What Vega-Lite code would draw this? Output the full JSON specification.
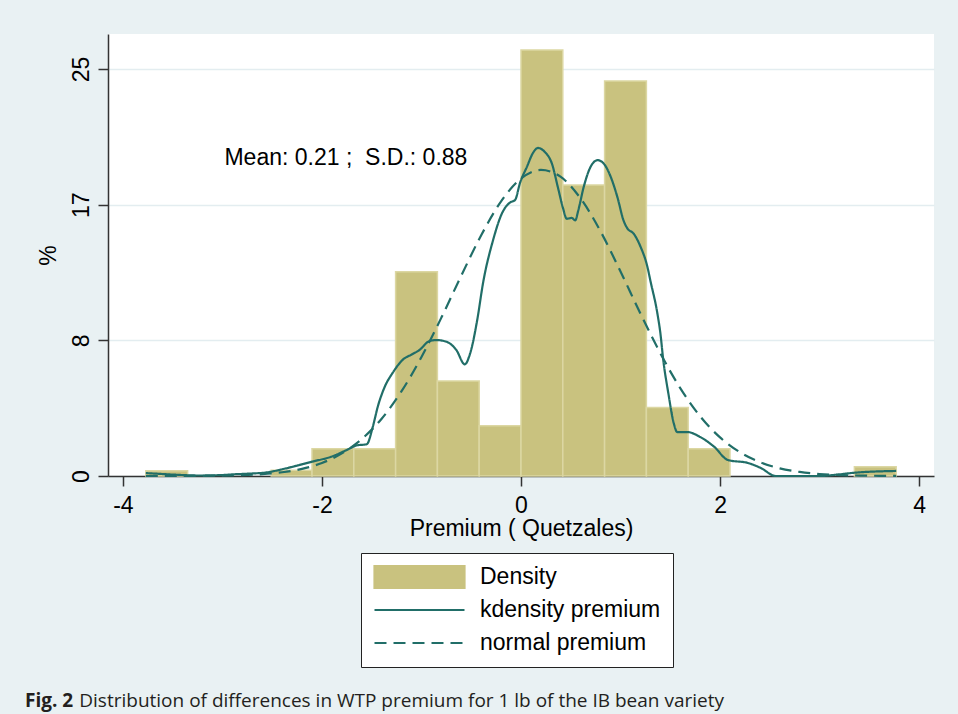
{
  "$schema": "https://vega.github.io/schema/vega-lite/v6.json",
  "width": 826,
  "height": 442,
  "autosize": {"type": "none"},
  "padding": {"left": 108, "top": 34, "right": 24, "bottom": 238},
  "background": "#e9f1f3",
  "config": {
    "view": {"fill": "white", "stroke": null},
    "font": "Liberation Sans",
    "axis": {
      "labelFont": "Liberation Sans",
      "titleFont": "Liberation Sans",
      "labelFontSize": 23,
      "titleFontSize": 23,
      "titleFontWeight": "normal",
      "labelColor": "black",
      "titleColor": "black",
      "tickColor": "#333333",
      "domainColor": "#333333",
      "tickWidth": 1.5,
      "domainWidth": 1.5,
      "tickSize": 10
    },
    "legend": {
      "orient": "none",
      "legendX": 253,
      "legendY": 519,
      "direction": "vertical",
      "fillColor": "white",
      "strokeColor": "#222222",
      "padding": 12,
      "labelFont": "Liberation Sans",
      "labelFontSize": 23,
      "labelColor": "black",
      "labelOffset": 14,
      "labelLimit": 400,
      "symbolSize": 8100,
      "symbolStrokeWidth": 2.2,
      "symbolOpacity": 1,
      "clipHeight": 24,
      "rowPadding": 9
    }
  },
  "title": {
    "text": "Fig. 2",
    "subtitle": "\u200b\u00a0\u00a0\u00a0\u00a0\u00a0\u00a0\u00a0\u00a0\u00a0\u00a0\u00a0Distribution of differences in WTP premium for 1 lb of the IB bean variety",
    "orient": "bottom",
    "anchor": "start",
    "frame": "group",
    "dx": -83,
    "offset": 24,
    "font": "Open Sans",
    "fontSize": 19,
    "fontWeight": "bold",
    "color": "#231f20",
    "subtitleFont": "Open Sans",
    "subtitleFontSize": 19,
    "subtitleFontWeight": "normal",
    "subtitleColor": "#231f20",
    "subtitlePadding": -19
  },
  "datasets": {
    "bars": [
      {"series": "Density", "bin_start": -3.77, "bin_end": -3.35, "pct": 0.33},
      {"series": "Density", "bin_start": -2.51, "bin_end": -2.10, "pct": 0.35},
      {"series": "Density", "bin_start": -2.10, "bin_end": -1.68, "pct": 1.68},
      {"series": "Density", "bin_start": -1.68, "bin_end": -1.26, "pct": 1.68},
      {"series": "Density", "bin_start": -1.26, "bin_end": -0.84, "pct": 12.55},
      {"series": "Density", "bin_start": -0.84, "bin_end": -0.42, "pct": 5.83},
      {"series": "Density", "bin_start": -0.42, "bin_end": 0.0, "pct": 3.09},
      {"series": "Density", "bin_start": 0.0, "bin_end": 0.42, "pct": 26.17},
      {"series": "Density", "bin_start": 0.42, "bin_end": 0.84, "pct": 17.87},
      {"series": "Density", "bin_start": 0.84, "bin_end": 1.26, "pct": 24.26},
      {"series": "Density", "bin_start": 1.26, "bin_end": 1.68, "pct": 4.2},
      {"series": "Density", "bin_start": 1.68, "bin_end": 2.10, "pct": 1.68},
      {"series": "Density", "bin_start": 3.35, "bin_end": 3.77, "pct": 0.57}
    ],
    "kdensity": [
      {"series": "kdensity premium", "x": -3.77, "y": 0.18},
      {"series": "kdensity premium", "x": -3.6, "y": 0.12},
      {"series": "kdensity premium", "x": -3.4, "y": 0.06},
      {"series": "kdensity premium", "x": -3.24, "y": 0.03},
      {"series": "kdensity premium", "x": -3.0, "y": 0.06},
      {"series": "kdensity premium", "x": -2.9, "y": 0.1},
      {"series": "kdensity premium", "x": -2.75, "y": 0.14},
      {"series": "kdensity premium", "x": -2.56, "y": 0.22},
      {"series": "kdensity premium", "x": -2.36, "y": 0.47},
      {"series": "kdensity premium", "x": -2.10, "y": 0.88},
      {"series": "kdensity premium", "x": -1.9, "y": 1.2},
      {"series": "kdensity premium", "x": -1.75, "y": 1.6},
      {"series": "kdensity premium", "x": -1.65, "y": 1.88},
      {"series": "kdensity premium", "x": -1.55, "y": 1.95},
      {"series": "kdensity premium", "x": -1.49, "y": 3.0},
      {"series": "kdensity premium", "x": -1.44, "y": 4.24},
      {"series": "kdensity premium", "x": -1.37, "y": 5.47},
      {"series": "kdensity premium", "x": -1.29, "y": 6.33},
      {"series": "kdensity premium", "x": -1.19, "y": 7.13},
      {"series": "kdensity premium", "x": -1.09, "y": 7.49},
      {"series": "kdensity premium", "x": -1.02, "y": 7.74},
      {"series": "kdensity premium", "x": -0.92, "y": 8.29},
      {"series": "kdensity premium", "x": -0.85, "y": 8.35},
      {"series": "kdensity premium", "x": -0.75, "y": 8.25},
      {"series": "kdensity premium", "x": -0.65, "y": 7.74},
      {"series": "kdensity premium", "x": -0.565, "y": 6.86},
      {"series": "kdensity premium", "x": -0.51, "y": 7.55},
      {"series": "kdensity premium", "x": -0.44, "y": 9.58},
      {"series": "kdensity premium", "x": -0.38, "y": 11.9},
      {"series": "kdensity premium", "x": -0.28, "y": 14.5},
      {"series": "kdensity premium", "x": -0.19, "y": 16.15},
      {"series": "kdensity premium", "x": -0.11, "y": 16.8},
      {"series": "kdensity premium", "x": -0.06, "y": 16.95},
      {"series": "kdensity premium", "x": -0.01, "y": 18.0},
      {"series": "kdensity premium", "x": 0.06, "y": 19.0},
      {"series": "kdensity premium", "x": 0.12, "y": 19.84},
      {"series": "kdensity premium", "x": 0.17, "y": 20.15},
      {"series": "kdensity premium", "x": 0.24, "y": 19.9},
      {"series": "kdensity premium", "x": 0.31, "y": 19.2},
      {"series": "kdensity premium", "x": 0.37, "y": 17.75},
      {"series": "kdensity premium", "x": 0.42, "y": 16.5},
      {"series": "kdensity premium", "x": 0.46, "y": 15.8},
      {"series": "kdensity premium", "x": 0.51, "y": 15.85},
      {"series": "kdensity premium", "x": 0.545, "y": 15.7},
      {"series": "kdensity premium", "x": 0.575, "y": 16.3},
      {"series": "kdensity premium", "x": 0.63, "y": 17.75},
      {"series": "kdensity premium", "x": 0.70, "y": 19.0},
      {"series": "kdensity premium", "x": 0.77, "y": 19.4},
      {"series": "kdensity premium", "x": 0.83, "y": 19.2},
      {"series": "kdensity premium", "x": 0.90, "y": 18.4},
      {"series": "kdensity premium", "x": 0.97, "y": 17.1},
      {"series": "kdensity premium", "x": 1.03, "y": 15.7},
      {"series": "kdensity premium", "x": 1.07, "y": 15.2},
      {"series": "kdensity premium", "x": 1.13, "y": 14.9},
      {"series": "kdensity premium", "x": 1.20, "y": 14.1},
      {"series": "kdensity premium", "x": 1.27, "y": 12.85},
      {"series": "kdensity premium", "x": 1.30, "y": 12.0},
      {"series": "kdensity premium", "x": 1.37, "y": 10.0},
      {"series": "kdensity premium", "x": 1.40, "y": 8.8},
      {"series": "kdensity premium", "x": 1.43, "y": 7.1},
      {"series": "kdensity premium", "x": 1.48, "y": 5.1},
      {"series": "kdensity premium", "x": 1.535, "y": 3.24},
      {"series": "kdensity premium", "x": 1.57, "y": 2.7},
      {"series": "kdensity premium", "x": 1.67, "y": 2.7},
      {"series": "kdensity premium", "x": 1.80, "y": 2.4},
      {"series": "kdensity premium", "x": 1.94, "y": 1.8},
      {"series": "kdensity premium", "x": 2.08, "y": 0.98},
      {"series": "kdensity premium", "x": 2.28, "y": 0.8},
      {"series": "kdensity premium", "x": 2.41, "y": 0.49},
      {"series": "kdensity premium", "x": 2.56, "y": 0.0},
      {"series": "kdensity premium", "x": 3.0, "y": 0.0},
      {"series": "kdensity premium", "x": 3.2, "y": 0.1},
      {"series": "kdensity premium", "x": 3.35, "y": 0.2},
      {"series": "kdensity premium", "x": 3.77, "y": 0.31}
    ],
    "normal": [
      {"series": "normal premium", "x": -3.77, "y": 0.0},
      {"series": "normal premium", "x": -3.6, "y": 0.002},
      {"series": "normal premium", "x": -3.4, "y": 0.004},
      {"series": "normal premium", "x": -3.2, "y": 0.01},
      {"series": "normal premium", "x": -3.0, "y": 0.024},
      {"series": "normal premium", "x": -2.8, "y": 0.054},
      {"series": "normal premium", "x": -2.6, "y": 0.115},
      {"series": "normal premium", "x": -2.4, "y": 0.23},
      {"series": "normal premium", "x": -2.2, "y": 0.44},
      {"series": "normal premium", "x": -2.0, "y": 0.8},
      {"series": "normal premium", "x": -1.8, "y": 1.39},
      {"series": "normal premium", "x": -1.6, "y": 2.27},
      {"series": "normal premium", "x": -1.4, "y": 3.52},
      {"series": "normal premium", "x": -1.2, "y": 5.21},
      {"series": "normal premium", "x": -1.0, "y": 7.31},
      {"series": "normal premium", "x": -0.8, "y": 9.73},
      {"series": "normal premium", "x": -0.6, "y": 12.31},
      {"series": "normal premium", "x": -0.4, "y": 14.79},
      {"series": "normal premium", "x": -0.2, "y": 16.87},
      {"series": "normal premium", "x": 0.0, "y": 18.27},
      {"series": "normal premium", "x": 0.2, "y": 18.8},
      {"series": "normal premium", "x": 0.4, "y": 18.37},
      {"series": "normal premium", "x": 0.6, "y": 17.04},
      {"series": "normal premium", "x": 0.8, "y": 15.02},
      {"series": "normal premium", "x": 1.0, "y": 12.56},
      {"series": "normal premium", "x": 1.2, "y": 9.98},
      {"series": "normal premium", "x": 1.4, "y": 7.54},
      {"series": "normal premium", "x": 1.6, "y": 5.4},
      {"series": "normal premium", "x": 1.8, "y": 3.67},
      {"series": "normal premium", "x": 2.0, "y": 2.37},
      {"series": "normal premium", "x": 2.2, "y": 1.46},
      {"series": "normal premium", "x": 2.4, "y": 0.85},
      {"series": "normal premium", "x": 2.6, "y": 0.47},
      {"series": "normal premium", "x": 2.8, "y": 0.25},
      {"series": "normal premium", "x": 3.0, "y": 0.12},
      {"series": "normal premium", "x": 3.2, "y": 0.058},
      {"series": "normal premium", "x": 3.4, "y": 0.026},
      {"series": "normal premium", "x": 3.6, "y": 0.011},
      {"series": "normal premium", "x": 3.77, "y": 0.005}
    ],
    "note": [
      {"x": -2.98, "y": 19.53, "label": "Mean: 0.21 ;\u00a0 S.D.: 0.88"}
    ]
  },
  "layer": [
    {
      "data": {"name": "bars"},
      "mark": {"type": "rect", "stroke": "#dcd7a3", "strokeWidth": 1.5, "opacity": 1},
      "encoding": {
        "x": {
          "field": "bin_start", "type": "quantitative",
          "scale": {"domain": [-4.15, 4.15], "nice": false, "zero": false},
          "axis": {"values": [-4, -2, 0, 2, 4], "labelExpr": "'' + datum.value", "title": "Premium ( Quetzales)", "grid": false, "labelPadding": 8, "titlePadding": 0}
        },
        "x2": {"field": "bin_end"},
        "y": {
          "field": "pct", "type": "quantitative",
          "scale": {"domain": [0, 27.15], "nice": false, "zero": true},
          "axis": {
            "values": [0, 8.3333, 16.6667, 25],
            "labelExpr": "format(datum.value, '.0f')",
            "labelAngle": -90, "labelAlign": "center", "labelBaseline": "bottom",
            "labelPadding": 5, "title": "%", "titlePadding": 10,
            "grid": true, "gridColor": "#e3edf0", "gridWidth": 1.5
          }
        },
        "y2": {"datum": 0},
        "color": {
          "field": "series", "type": "nominal", "title": null,
          "scale": {"domain": ["Density", "kdensity premium", "normal premium"], "range": ["#c9c27f", "#216e68", "#216e68"]}
        }
      }
    },
    {
      "data": {"name": "kdensity"},
      "mark": {"type": "point", "opacity": 0},
      "encoding": {
        "x": {"field": "x", "type": "quantitative"},
        "y": {"field": "y", "type": "quantitative"},
        "shape": {
          "field": "series", "type": "nominal", "title": null,
          "scale": {"domain": ["Density", "kdensity premium", "normal premium"], "range": ["M-1,-0.27H1V0.27H-1Z", "M-1,0H1", "M-1,0H1"]}
        }
      }
    },
    {
      "data": {"name": "kdensity"},
      "mark": {"type": "line", "strokeWidth": 2.2, "interpolate": "monotone", "opacity": 1},
      "encoding": {
        "x": {"field": "x", "type": "quantitative"},
        "y": {"field": "y", "type": "quantitative"},
        "color": {"field": "series", "type": "nominal", "title": null},
        "strokeDash": {
          "field": "series", "type": "nominal", "title": null,
          "scale": {"domain": ["Density", "kdensity premium", "normal premium"], "range": [[1, 0], [1, 0], [12, 7]]}
        }
      }
    },
    {
      "data": {"name": "normal"},
      "mark": {"type": "line", "strokeWidth": 2.2, "interpolate": "monotone", "opacity": 1},
      "encoding": {
        "x": {"field": "x", "type": "quantitative"},
        "y": {"field": "y", "type": "quantitative"},
        "color": {"field": "series", "type": "nominal", "title": null},
        "strokeDash": {"field": "series", "type": "nominal", "title": null}
      }
    },
    {
      "data": {"name": "note"},
      "mark": {"type": "text", "align": "left", "baseline": "middle", "font": "Liberation Sans", "fontSize": 23, "color": "black"},
      "encoding": {
        "x": {"field": "x", "type": "quantitative"},
        "y": {"field": "y", "type": "quantitative"},
        "text": {"field": "label"}
      }
    }
  ]
}
